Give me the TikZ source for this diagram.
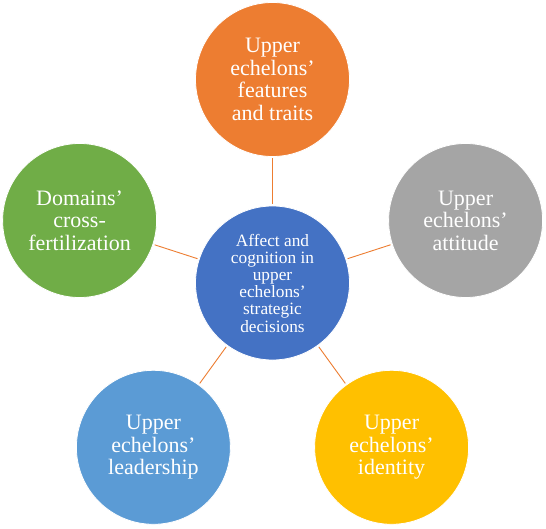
\documentclass[tikz,border=0pt]{standalone}
\usepackage{fontspec}
\setmainfont{Liberation Serif}
\definecolor{cOrange}{HTML}{ED7D31}
\definecolor{cGray}{HTML}{A5A5A5}
\definecolor{cYellow}{HTML}{FFC000}
\definecolor{cLBlue}{HTML}{5B9BD5}
\definecolor{cGreen}{HTML}{70AD47}
\definecolor{cBlue}{HTML}{4472C4}
\begin{document}
\begin{tikzpicture}[x=1pt,y=-1pt,
  bubble/.style={circle,minimum size=154pt,inner sep=0pt,draw=white,line width=0.8pt,
    text=white,align=center,font=\fontsize{22}{22.5}\selectfont},
  hub/.style={bubble,font=\fontsize{17.3}{17.2}\selectfont},
  conn/.style={draw=cOrange,line width=0.9pt,shorten <=1.5pt,shorten >=1.5pt}]
\useasboundingbox (0,0) rectangle (546,529);
\fill[white] (0,0) rectangle (546,529);
\node[hub,fill=cBlue] (c) at (272.5,283) {Affect and\\cognition in\\upper\\echelons’\\strategic\\decisions};
\node[bubble,fill=cOrange] (t) at (272.5,79.5) {Upper\\echelons’\\features\\and traits};
\node[bubble,fill=cGray] (r) at (465.6,220.5) {Upper\\echelons’\\attitude};
\node[bubble,fill=cYellow] (br) at (391.6,447.3) {Upper\\echelons’\\identity};
\node[bubble,fill=cLBlue] (bl) at (153.4,447.3) {Upper\\echelons’\\leadership};
\node[bubble,fill=cGreen] (l) at (79.6,220.5) {Domains’\\cross-\\fertilization};
\draw[conn] (c) -- (t);
\draw[conn] (c) -- (r);
\draw[conn] (c) -- (br);
\draw[conn] (c) -- (bl);
\draw[conn] (c) -- (l);
\end{tikzpicture}
\end{document}
